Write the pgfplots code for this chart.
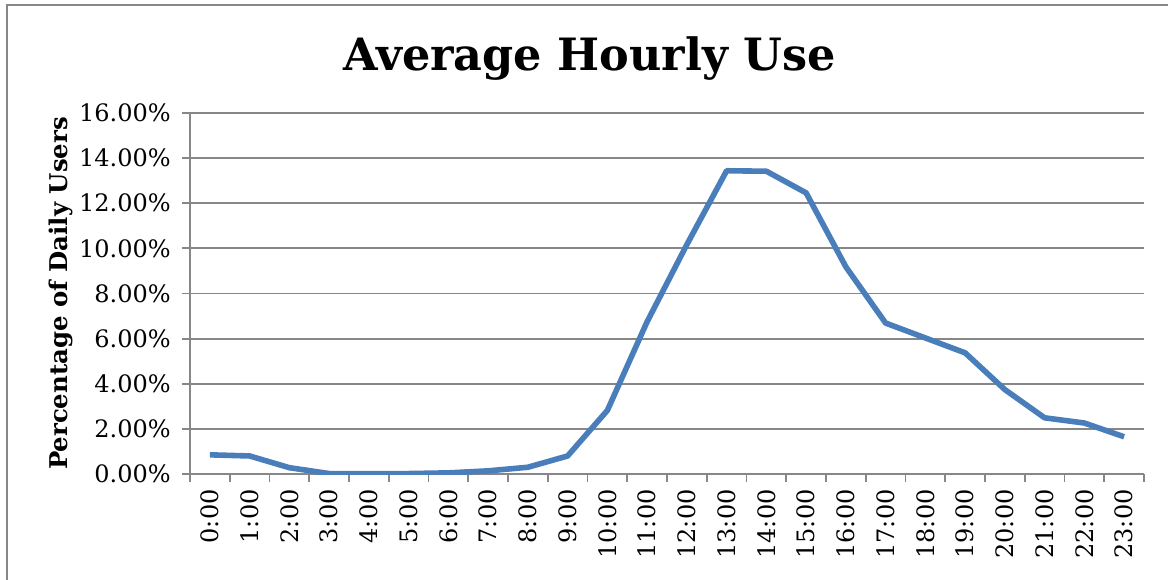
\documentclass[border=0pt]{standalone}
\usepackage{pgfplots}
\pgfplotsset{compat=1.18}
\usepackage{fontspec}
\setmainfont{DejaVu Serif}
\definecolor{gridgray}{HTML}{878787}
\definecolor{lineblue}{HTML}{4A7EBB}
\begin{document}
\begin{tikzpicture}
\useasboundingbox (0pt,0pt) rectangle (876pt,-434.25pt);
\draw[gridgray, line width=1.2pt] (5.25pt,-450pt) -- (5.25pt,-3.75pt) -- (900pt,-3.75pt);
\begin{axis}[
  at={(142.5pt,-355.5pt)}, anchor=south west,
  scale only axis,
  width=715.5pt, height=270.75pt,
  xmin=-0.5, xmax=23.5,
  ymin=0, ymax=16,
  axis x line=bottom, axis y line=left,
  axis line style={gridgray, line width=1.4pt, -},
  xtick={0,...,23},
  xticklabels={0:00,1:00,2:00,3:00,4:00,5:00,6:00,7:00,8:00,9:00,10:00,11:00,12:00,13:00,14:00,15:00,16:00,17:00,18:00,19:00,20:00,21:00,22:00,23:00},
  major x tick style={draw=none},
  minor xtick={-0.5,0.5,...,23.5},
  minor x tick style={gridgray, line width=1.4pt},
  minor tick length=6pt,
  ytick={0,2,...,16},
  yticklabels={0.00\%,2.00\%,4.00\%,6.00\%,8.00\%,10.00\%,12.00\%,14.00\%,16.00\%},
  major y tick style={gridgray, line width=1.4pt},
  major tick length=6pt,
  tick align=outside,
  ymajorgrids,
  grid style={gridgray, line width=1.4pt},
  tick label style={font=\fontsize{18}{20}\selectfont},
  x tick label style={rotate=90, anchor=east, xshift=1pt},
  xticklabel shift=3pt,
  yticklabel shift=5pt,
  ylabel={\bfseries Percentage of Daily Users},
  ylabel style={font=\fontsize{18.3}{20}\selectfont, yshift=-2pt},
  title={\bfseries Average Hourly Use},
  title style={font=\fontsize{33.4}{36}\selectfont, at={(axis description cs:0.419,1.095)}, anchor=base},
]
\addplot[lineblue, line width=4.2pt, line join=round] coordinates {
(0,0.85) (1,0.80) (2,0.28) (3,0.02) (4,0.02) (5,0.02) (6,0.05) (7,0.14)
(8,0.30) (9,0.80) (10,2.82) (11,6.75) (12,10.17) (13,13.44) (14,13.42)
(15,12.46) (16,9.18) (17,6.69) (18,6.03) (19,5.37) (20,3.74) (21,2.49)
(22,2.26) (23,1.65)
};
\end{axis}
\end{tikzpicture}
\end{document}
